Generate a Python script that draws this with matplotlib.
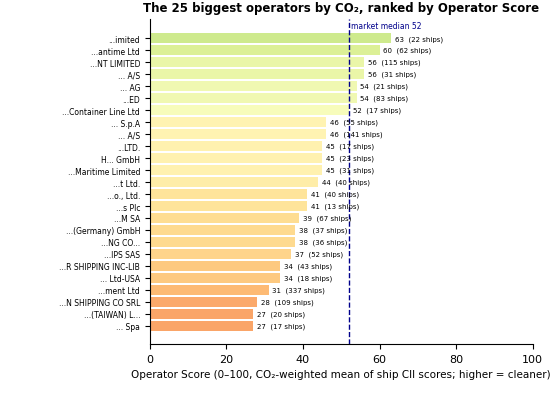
import matplotlib.pyplot as plt

operators = ["...imited", "...antime Ltd", "...NT LIMITED", "... A/S", "... AG", "...ED",
             "...Container Line Ltd", "... S.p.A", "... A/S", "...LTD.", "H... GmbH",
             "...Maritime Limited", "...t Ltd.", "...o., Ltd.", "...s Plc", "...M SA",
             "...(Germany) GmbH", "...NG CO...", "...IPS SAS", "...R SHIPPING INC-LIB",
             "... Ltd-USA", "...ment Ltd", "...N SHIPPING CO SRL", "...(TAIWAN) L...", "... Spa"]
scores = [63, 60, 56, 56, 54, 54, 52, 46, 46, 45, 45, 45, 44, 41, 41, 39, 38, 38, 37,
          34, 34, 31, 28, 27, 27]
ships = [22, 62, 115, 31, 21, 83, 17, 55, 141, 17, 23, 31, 40, 40, 13, 67, 37, 36, 52,
         43, 18, 337, 109, 20, 17]
median = 52

fig = plt.figure(figsize=(5.59, 4.1), dpi=100)
ax = fig.add_axes([0.268, 0.159, 0.685, 0.792])
ypos = range(len(scores))
colors = [plt.cm.RdYlGn(s / 100) for s in scores]
ax.barh(ypos, scores, color=colors, alpha=0.9, height=0.85)
for y, s, n in zip(ypos, scores, ships):
    ax.text(s + 1, y, f"{s}  ({n} ships)", va="center", fontsize=5)
ax.axvline(median, color="darkblue", ls="--", lw=1)
ax.text(median + 0.5, -1.1, f"market median {median}", color="darkblue", fontsize=5.5, va="center")
ax.set_yticks(list(ypos))
ax.set_yticklabels(operators, fontsize=5.5)
ax.set_ylim(25.5, -1.6)
ax.set_xlim(0, 100)
ax.tick_params(axis="x", labelsize=8)
ax.set_xlabel("Operator Score (0–100, CO₂-weighted mean of ship CII scores; higher = cleaner)", fontsize=7.5)
ax.set_title("The 25 biggest operators by CO₂, ranked by Operator Score", fontsize=8.5, fontweight="bold")
ax.spines["top"].set_visible(False)
ax.spines["right"].set_visible(False)
fig.savefig("out.png")
